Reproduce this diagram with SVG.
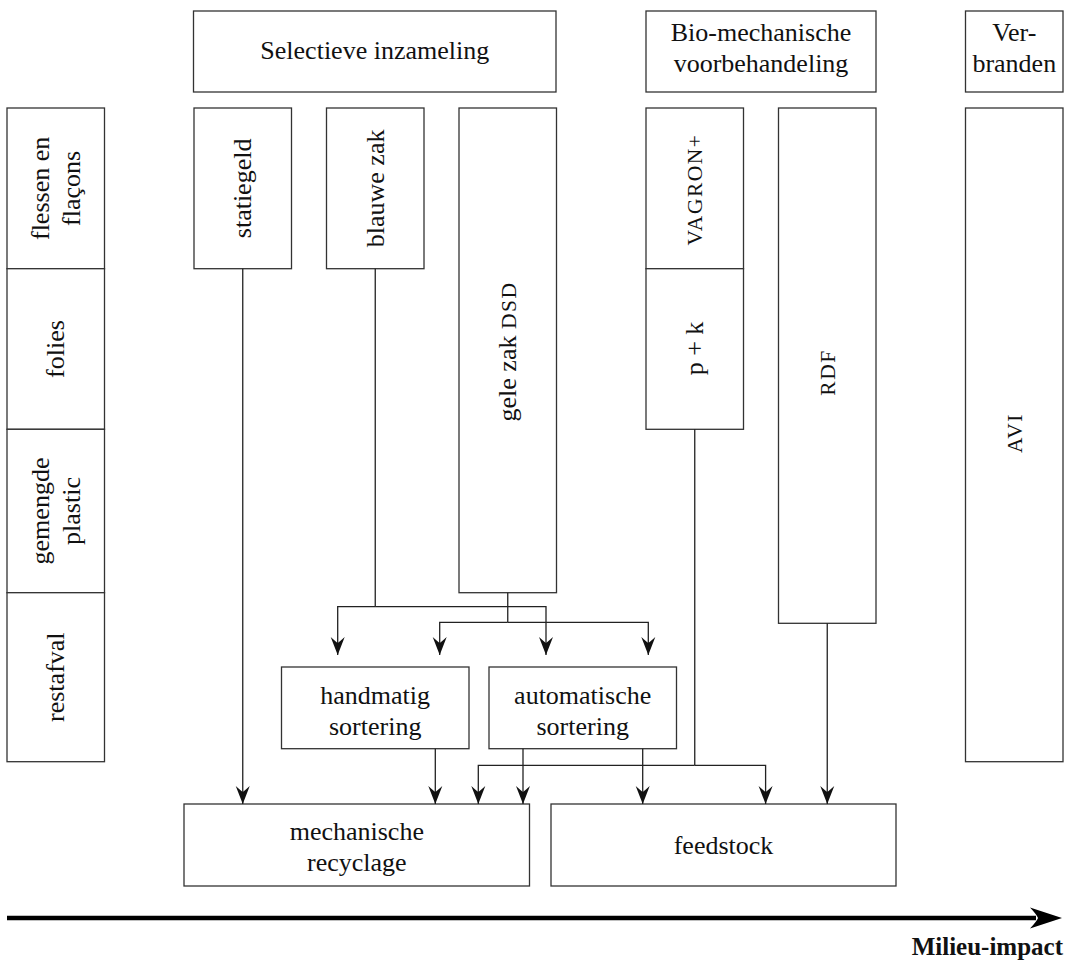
<svg xmlns="http://www.w3.org/2000/svg" width="1078" height="963" viewBox="0 0 1078 963">
<style>
  .box{fill:#fff;stroke:#333;stroke-width:1.3}
  .lbl{font-family:"Liberation Serif",serif;font-size:26px;fill:#111;text-anchor:middle}
  .sc{font-size:21.5px;letter-spacing:1.5px}
  .con{fill:none;stroke:#222;stroke-width:1.3}
  .arr{marker-end:url(#ah)}
</style>
<defs>
  <marker id="ah" viewBox="-19 -8 20 16" refX="0" refY="0" markerWidth="20" markerHeight="16" markerUnits="userSpaceOnUse" orient="auto">
    <path d="M0,0 L-18,-7 Q-13,-1.5 -12,0 Q-13,1.5 -18,7 Z" fill="#111"/>
  </marker>
</defs>

<g id="n-selectieve"><rect class="box" x="193.5" y="11" width="362.5" height="81"/><text class="lbl" x="374.8" y="59">Selectieve inzameling</text></g>
<g id="n-bio"><rect class="box" x="646" y="11" width="230" height="81"/><text class="lbl" x="761" y="40.5">Bio-mechanische</text><text class="lbl" x="761" y="71.5">voorbehandeling</text></g>
<g id="n-verbranden"><rect class="box" x="965.5" y="11" width="97.5" height="81"/><text class="lbl" x="1014.3" y="40.5">Ver-</text><text class="lbl" x="1014.3" y="71.5">branden</text></g>

<g id="n-flessen"><rect class="box" x="7" y="108" width="97.5" height="160.7"/><g transform="translate(55.75,188.4) rotate(-90)"><text class="lbl" x="0" y="-7">flessen en</text><text class="lbl" x="0" y="24">flaçons</text></g></g>
<g id="n-folies"><rect class="box" x="7" y="268.7" width="97.5" height="160.6"/><g transform="translate(55.75,349) rotate(-90)"><text class="lbl" x="0" y="8.5">folies</text></g></g>
<g id="n-gemengde"><rect class="box" x="7" y="429.3" width="97.5" height="163.4"/><g transform="translate(55.75,511) rotate(-90)"><text class="lbl" x="0" y="-7">gemengde</text><text class="lbl" x="0" y="24">plastic</text></g></g>
<g id="n-restafval"><rect class="box" x="7" y="592.7" width="97.5" height="169"/><g transform="translate(55.75,677.2) rotate(-90)"><text class="lbl" x="0" y="8.5">restafval</text></g></g>

<g id="n-statiegeld"><rect class="box" x="194" y="108" width="97.5" height="160.7"/><g transform="translate(242.75,188.4) rotate(-90)"><text class="lbl" x="0" y="8.5">statiegeld</text></g></g>
<g id="n-blauwe"><rect class="box" x="326.5" y="108" width="97.5" height="160.7"/><g transform="translate(375.25,188.4) rotate(-90)"><text class="lbl" x="0" y="8.5">blauwe zak</text></g></g>
<g id="n-gele"><rect class="box" x="459" y="108" width="97.5" height="484.7"/><g transform="translate(507.75,351.5) rotate(-90)"><text class="lbl" x="0" y="8.5">gele zak <tspan class="sc">DSD</tspan></text></g></g>
<g id="n-vagron"><rect class="box" x="646" y="108" width="97.5" height="160.7"/><g transform="translate(694.75,189.5) rotate(-90)"><text class="lbl sc" x="0" y="7.5">VAGRON+</text></g></g>
<g id="n-pk"><rect class="box" x="646" y="268.7" width="97.5" height="160.6"/><g transform="translate(694.75,348.5) rotate(-90)"><text class="lbl" x="0" y="8.5">p + k</text></g></g>
<g id="n-rdf"><rect class="box" x="778.5" y="108" width="97.5" height="515.3"/><g transform="translate(827.25,372.5) rotate(-90)"><text class="lbl sc" x="0" y="7.5">RDF</text></g></g>
<g id="n-avi"><rect class="box" x="965.5" y="108" width="97.5" height="653.7"/><g transform="translate(1014.25,433) rotate(-90)"><text class="lbl sc" x="0" y="7.5">AVI</text></g></g>

<g id="n-handmatig"><rect class="box" x="281.5" y="667" width="187.5" height="81.7"/><text class="lbl" x="375.2" y="703.5">handmatig</text><text class="lbl" x="375.2" y="734.5">sortering</text></g>
<g id="n-automatisch"><rect class="box" x="489" y="667" width="187.5" height="81.7"/><text class="lbl" x="582.7" y="703.5">automatische</text><text class="lbl" x="582.7" y="734.5">sortering</text></g>
<g id="n-mechanisch"><rect class="box" x="184" y="804" width="345.5" height="82"/><text class="lbl" x="356.8" y="839.5">mechanische</text><text class="lbl" x="356.8" y="870.5">recyclage</text></g>
<g id="n-feedstock"><rect class="box" x="551" y="804" width="345" height="82"/><text class="lbl" x="723.5" y="854">feedstock</text></g>

<g id="connectors">
  <path class="con arr" d="M242.75,268.7 V804"/>
  <path class="con" d="M375.25,268.7 V606.7"/>
  <path class="con arr" d="M375.25,606.7 H337.7 V655"/>
  <path class="con arr" d="M375.25,606.7 H546 V655"/>
  <path class="con" d="M507.75,592.7 V622.3"/>
  <path class="con arr" d="M507.75,622.3 H439.7 V655"/>
  <path class="con arr" d="M507.75,622.3 H648.3 V655"/>
  <path class="con arr" d="M435.3,748.7 V804"/>
  <path class="con arr" d="M523,748.7 V804"/>
  <path class="con arr" d="M642.7,748.7 V804"/>
  <path class="con" d="M694.75,429.3 V765.3"/>
  <path class="con arr" d="M694.75,765.3 H478.3 V804"/>
  <path class="con arr" d="M694.75,765.3 H765.6 V804"/>
  <path class="con arr" d="M827.25,623.3 V804"/>
</g>

<g id="milieu-axis">
  <line x1="7" y1="918" x2="1036" y2="918" stroke="#000" stroke-width="4.5"/>
  <path d="M1062,918 L1030,907.5 Q1037,915 1038,918 Q1037,921 1030,928.5 Z" fill="#000"/>
  <text x="1063" y="955" font-family="'Liberation Serif',serif" font-size="25" font-weight="bold" text-anchor="end" fill="#111">Milieu-impact</text>
</g>
</svg>
